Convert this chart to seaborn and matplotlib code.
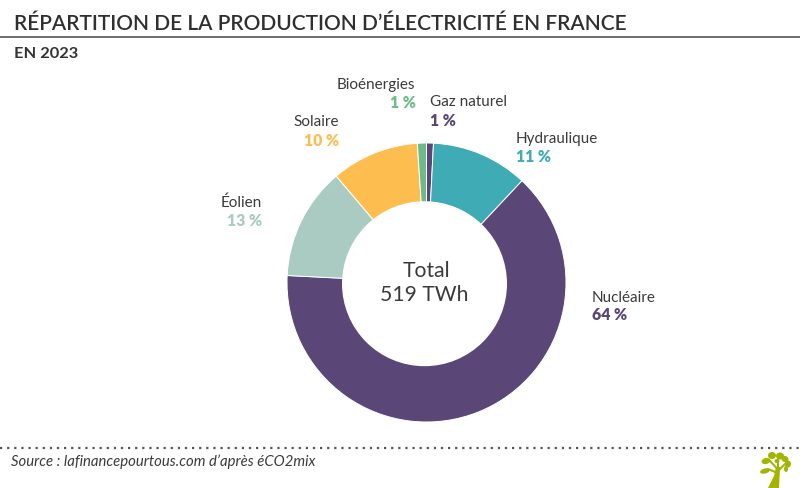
import matplotlib
matplotlib.use("Agg")
import matplotlib.pyplot as plt
from matplotlib.patches import Ellipse, Polygon, Circle
import seaborn as sns

sns.set_theme(style="white")
plt.rcParams['font.family'] = ['Lato', 'DejaVu Sans']

categories = ["Gaz naturel", "Hydraulique", "Nucléaire", "Éolien", "Solaire", "Bioénergies"]
shares = [0.8, 11.2, 63.8, 13.0, 10.15, 1.05]
labels_pct = ["1 %", "11 %", "64 %", "13 %", "10 %", "1 %"]
palette = sns.color_palette(["#5A4778", "#3FACB5", "#5A4778", "#AACBC2", "#FEBE4F", "#6DBB8A"])

W, H = 800, 489
TXT = "#3B3B3B"
fig = plt.figure(figsize=(W/100, H/100), dpi=100, facecolor="white")
bg = fig.add_axes([0, 0, 1, 1])
bg.set_xlim(0, W); bg.set_ylim(H, 0); bg.axis("off")
bg.set_zorder(3)

# donut: full pie with a slightly off-centre white hole, as in the reference
cx, cy, R = 426.5, 283.5, 139.5
ax = fig.add_axes([(cx-R)/W, 1-(cy+R)/H, 2*R/W, 2*R/H])
ax.set_zorder(1)
ax.pie(shares, colors=palette, startangle=90, counterclock=False, radius=1.0,
       wedgeprops=dict(edgecolor="white", linewidth=0.7))
ax.add_patch(Circle(((424.5-cx)/R, -(284.7-cy)/R), 82.5/R, facecolor="white", edgecolor="none", zorder=5))
ax.set_xlim(-1, 1); ax.set_ylim(-1, 1)
ax.set_aspect("equal"); ax.axis("off")

# title block
bg.text(14, 24, "RÉPARTITION DE LA PRODUCTION D’ÉLECTRICITÉ EN FRANCE", fontsize=15.0,
        color="#2F2F2F", va="center", ha="left", fontweight="semibold")
bg.plot([0, 800], [37.5, 37.5], color="#6E6E6E", lw=1.4)
bg.text(14, 54.5, "EN 2023", fontsize=11.8, color="#333333", va="center", ha="left", fontweight="bold")

# centre text
bg.text(426, 271, "Total", fontsize=15.2, color=TXT, ha="center", va="center")
bg.text(424, 295, "519 TWh", fontsize=15.2, color=TXT, ha="center", va="center")

# labels
label_pos = {
    "Gaz naturel": (430, 102.5, "left"),
    "Hydraulique": (516, 139.5, "left"),
    "Nucléaire": (592, 297.5, "left"),
    "Éolien": (262, 202.5, "right"),
    "Solaire": (339, 122.5, "right"),
    "Bioénergies": (415.5, 84.5, "right"),
}
pct_colors = dict(zip(categories, palette))
for name, pct in zip(categories, labels_pct):
    x, y, ha = label_pos[name]
    bg.text(x, y, name, fontsize=11, color=TXT, ha=ha, va="center")
    bg.text(x, y+18, pct, fontsize=11.3, color=pct_colors[name], ha=ha, va="center", fontweight="heavy")

# footer
bg.plot([0, 800], [448.5, 448.5], color="#555555", lw=1.6, linestyle=(0, (1, 2.2)))
bg.text(11, 462, "Source : lafinancepourtous.com d’après éCO2mix", fontsize=10.7, color=TXT,
        style="italic", ha="left", va="center")

# tree logo
G = "#A3B500"
bg.add_patch(Polygon([(768, 489), (774, 477), (776, 468), (780, 468), (779, 489)], color=G, lw=0))
for (x, y, w, h, a) in [(772, 456.5, 8, 7, 0), (780, 457, 8, 7, 0), (785, 460, 7, 6, 0),
                        (766, 462, 9, 6, -15), (788, 465, 6, 7, 0), (786, 470, 4, 6, 0),
                        (765, 472, 10, 5, -15), (777, 462, 5, 4, 0)]:
    bg.add_patch(Ellipse((x, y), w, h, angle=a, color=G, lw=0))
bg.plot([777.5, 768], [474, 470], color=G, lw=1.5)
bg.plot([778, 786], [472, 464], color=G, lw=1.5)
bg.plot([777.5, 770], [470, 462], color=G, lw=1.5)
bg.plot([778, 778], [470, 460], color=G, lw=1.5)

fig.savefig("out.png", dpi=100)
